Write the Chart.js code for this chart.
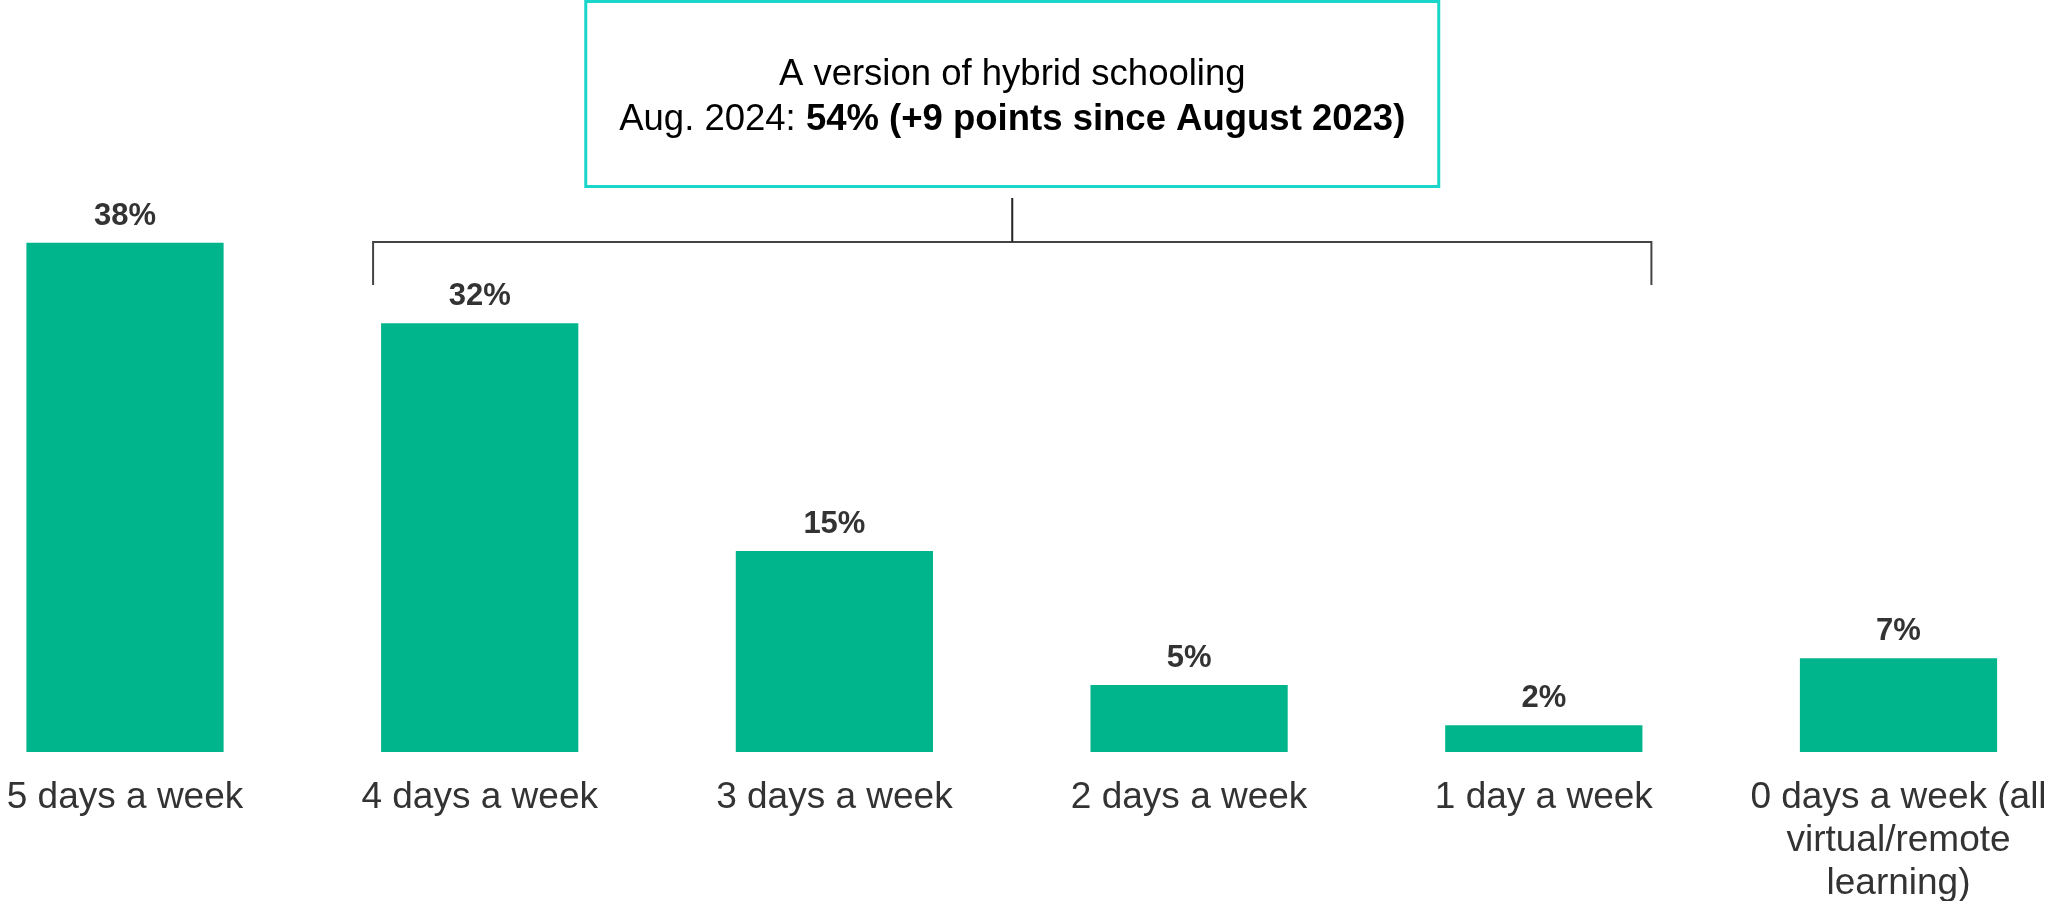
<!DOCTYPE html>
<html>
<head>
<meta charset="utf-8">
<script src="https://cdn.jsdelivr.net/npm/chart.js@4/dist/chart.umd.min.js"></script>
<style>
  html, body { margin: 0; padding: 0; background: #fff; }
  #wrap { width: 2048px; height: 901px; }
</style>
</head>
<body>
<div id="wrap"><canvas id="schoolChart" width="2048" height="901"></canvas></div>
<script>
// Data
const categories = [
  '5 days a week',
  '4 days a week',
  '3 days a week',
  '2 days a week',
  '1 day a week',
  ['0 days a week (all', 'virtual/remote', 'learning)']
];
const shares = [38, 32, 15, 5, 2, 7];
const boxLine1 = 'A version of hybrid schooling';
const boxLine2Plain = 'Aug. 2024: ';
const boxLine2Bold = '54% (+9 points since August 2023)';
const hybridFrom = 1; // bracket covers 4 days .. 1 day
const hybridTo = 4;

const FONT = "'Liberation Sans', Arial, sans-serif";

// value labels, bracket and callout box
const overlay = {
  id: 'overlay',
  afterDatasetsDraw(chart) {
    const c = chart.ctx;
    const bars = chart.getDatasetMeta(0).data;

    c.save();
    c.fillStyle = '#333333';
    c.font = 'bold 31px ' + FONT;
    c.textAlign = 'center';
    c.textBaseline = 'alphabetic';
    bars.forEach((bar, i) => {
      c.fillText(shares[i] + '%', bar.x, bar.y - 18);
    });

    // bracket
    const left = bars[hybridFrom].x - bars[hybridFrom].width / 2 - 8;
    const right = bars[hybridTo].x + bars[hybridTo].width / 2 + 9;
    const mid = (left + right) / 2;
    c.strokeStyle = '#444444';
    c.lineWidth = 2;
    c.beginPath();
    c.moveTo(left, 285);
    c.lineTo(left, 242);
    c.lineTo(right, 242);
    c.lineTo(right, 285);
    c.stroke();
    c.strokeStyle = '#222222';
    c.beginPath();
    c.moveTo(mid, 198);
    c.lineTo(mid, 242);
    c.stroke();

    // callout box
    const boxW = 853;
    c.strokeStyle = '#19d5ca';
    c.lineWidth = 3;
    c.strokeRect(mid - boxW / 2, 1.5, boxW, 185);

    c.fillStyle = '#000000';
    c.font = '36.5px ' + FONT;
    c.fillText(boxLine1, mid, 85);
    const plainFont = '36.5px ' + FONT;
    const boldFont = 'bold 36.5px ' + FONT;
    c.font = plainFont;
    const w1 = c.measureText(boxLine2Plain).width;
    c.font = boldFont;
    const w2 = c.measureText(boxLine2Bold).width;
    const x0 = mid - (w1 + w2) / 2;
    c.textAlign = 'left';
    c.font = plainFont;
    c.fillText(boxLine2Plain, x0, 130);
    c.font = boldFont;
    c.fillText(boxLine2Bold, x0 + w1, 130);
    c.restore();
  }
};

const ctx = document.getElementById('schoolChart').getContext('2d');
new Chart(ctx, {
  type: 'bar',
  data: {
    labels: categories,
    datasets: [{
      data: shares,
      backgroundColor: '#00b48b',
      borderWidth: 0,
      categoryPercentage: 1,
      barPercentage: 0.556,
      clip: false
    }]
  },
  options: {
    responsive: false,
    animation: false,
    layout: {
      padding: { left: 125, right: 149.5, top: 216, bottom: 0 }
    },
    scales: {
      x: {
        offset: false,
        grid: { display: false, drawTicks: false },
        border: { display: false },
        ticks: {
          autoSkip: false,
          maxRotation: 0,
          minRotation: 0,
          padding: 24,
          color: '#333333',
          font: { family: FONT, size: 37, lineHeight: 1.17 }
        },
        afterFit(scale) {
          scale.paddingLeft = 0;
          scale.paddingRight = 0;
          scale.height = 149;
        }
      },
      y: {
        display: false,
        min: 0,
        max: 40
      }
    },
    plugins: {
      legend: { display: false },
      tooltip: { enabled: false }
    }
  },
  plugins: [overlay]
});
</script>
</body>
</html>
